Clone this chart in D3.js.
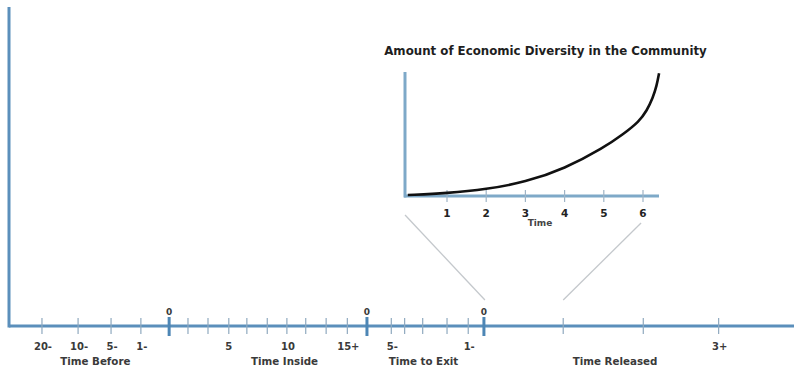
<!DOCTYPE html>
<html><head><meta charset="utf-8">
<script src="https://cdn.jsdelivr.net/npm/d3@7"></script>
<style>body{margin:0;background:#fff}svg{display:block}text{font-family:"DejaVu Sans",Verdana,sans-serif;font-weight:bold;fill:#3a3a3a}</style>
</head><body><svg id="c" width="794" height="371"></svg>
<script>
// Main timeline: tick positions (timeline units 0..100) and their labels
const tickPos   = [4.2, 8.8, 13.0, 16.8, 20.4, 22.8, 25.35, 28.0, 30.3, 32.9, 35.4, 37.8, 40.4, 43.1, 45.6, 48.7, 50.4, 52.7, 55.8, 58.5, 60.5, 70.6, 80.8, 90.4];
const tickLabel = ["20-","10-","5-","1-","","","","5","","","10","","","15+","","5-","","","","1-","","","","3+"];
const zeroPos   = [20.4, 45.6, 60.5];
const phases    = ["Time Before","Time Inside","Time to Exit","Time Released"];
const phaseCenter = [11.0, 35.1, 52.8, 77.2];
// Inset: economic diversity over time
const insetTitle = "Amount of Economic Diversity in the Community";
const insetTicks = [1, 2, 3, 4, 5, 6];
const curveT     = [0, 1, 2, 3, 4, 5, 5.5, 5.9, 6.1, 6.25, 6.35, 6.41];
const curveV     = [0.8, 2.3, 5.3, 11.2, 22, 39, 50, 60, 69, 79, 89, 99];
// zoom connectors: from timeline positions to inset times
const connFrom = [60.5, 70.6];
const connTo   = [-0.07, 5.95];

const svg = d3.select("#c");
const axisY = 326;
const x = d3.scaleLinear().domain([0, 100]).range([9, 794]);
const tx = d3.scaleLinear().domain([0, 6]).range([407.8, 643]);
const vy = d3.scaleLinear().domain([0, 100]).range([196, 72]);
const blue = "#5b8fbb";

// connectors
connFrom.forEach((f, i) => {
  svg.append("line").attr("x1", x(f) + (i === 0 ? 1 : 0)).attr("y1", 300)
    .attr("x2", tx(connTo[i])).attr("y2", i === 0 ? 215 : 223)
    .attr("stroke", "#c4c8cc").attr("stroke-width", 1.3);
});

// main axis
svg.append("line").attr("x1", 9).attr("x2", 9).attr("y1", 7).attr("y2", axisY + 1.5)
  .attr("stroke", blue).attr("stroke-width", 3);
svg.append("line").attr("x1", 9).attr("x2", 794).attr("y1", axisY).attr("y2", axisY)
  .attr("stroke", blue).attr("stroke-width", 3);

svg.selectAll(".tk").data(tickPos).enter().append("line")
  .attr("x1", d => x(d)).attr("x2", d => x(d)).attr("y1", axisY - 8).attr("y2", axisY + 8)
  .attr("stroke", "#8fa9bf").attr("stroke-width", 1.2);
svg.selectAll(".zk").data(zeroPos).enter().append("line")
  .attr("x1", d => x(d)).attr("x2", d => x(d)).attr("y1", axisY - 9).attr("y2", axisY + 10)
  .attr("stroke", "#4d86b5").attr("stroke-width", 3);
svg.selectAll(".zl").data(zeroPos).enter().append("text")
  .attr("x", d => x(d)).attr("y", 315).attr("text-anchor", "middle")
  .attr("font-size", 9).text("0");

svg.selectAll(".tl").data(tickPos).enter().append("text")
  .attr("x", (d, i) => x(d) + (tickLabel[i].length > 1 ? 1 : 0)).attr("y", 350)
  .attr("text-anchor", "middle").attr("font-size", 10)
  .text((d, i) => tickLabel[i]);
svg.selectAll(".ph").data(phases).enter().append("text")
  .attr("x", (d, i) => x(phaseCenter[i])).attr("y", 365)
  .attr("text-anchor", "middle").attr("font-size", 10.3).text(d => d);

// inset
svg.append("text").attr("x", 545.5).attr("y", 55).attr("text-anchor", "middle")
  .attr("font-size", 11.8).style("fill", "#1e1e1e").text(insetTitle);
svg.append("line").attr("x1", 405).attr("x2", 405).attr("y1", 72).attr("y2", 197.5)
  .attr("stroke", "#7ea9c8").attr("stroke-width", 3);
svg.append("line").attr("x1", 404).attr("x2", 659).attr("y1", 196).attr("y2", 196)
  .attr("stroke", "#7ea9c8").attr("stroke-width", 3);
svg.selectAll(".itk").data(insetTicks).enter().append("line")
  .attr("x1", d => tx(d)).attr("x2", d => tx(d)).attr("y1", 190).attr("y2", 202)
  .attr("stroke", "#9fb4c6").attr("stroke-width", 1.2);
svg.selectAll(".itl").data(insetTicks).enter().append("text")
  .attr("x", d => tx(d)).attr("y", 217).attr("text-anchor", "middle")
  .attr("font-size", 10.5).style("fill", "#222").text(d => d);
svg.append("text").attr("x", 540).attr("y", 225.5).attr("text-anchor", "middle")
  .attr("font-size", 9).style("fill", "#444").text("Time");

const pts = curveT.map((t, i) => [t, curveV[i]]);
svg.append("path").datum(pts)
  .attr("d", d3.line().x(d => tx(d[0])).y(d => vy(d[1])).curve(d3.curveBasis))
  .attr("fill", "none").attr("stroke", "#111").attr("stroke-width", 2.6);
</script></body></html>
